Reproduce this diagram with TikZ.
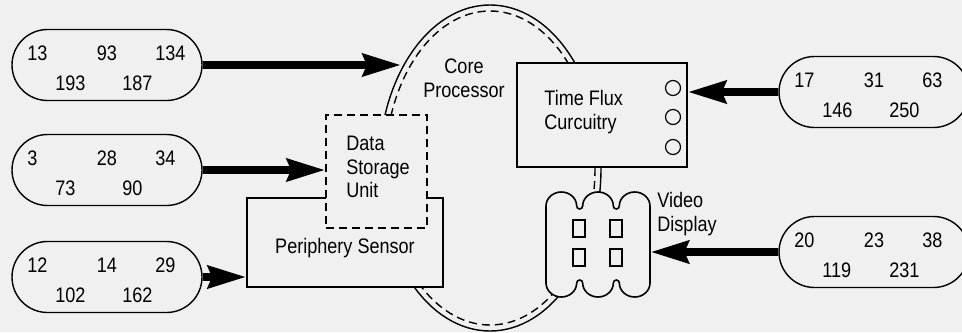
\documentclass[tikz,border=0pt]{standalone}
\usepackage{fontspec}
\setmainfont{Liberation Sans}[FakeStretch=0.86]
\usetikzlibrary{arrows.meta,positioning,shapes.misc}
\definecolor{paper}{gray}{0.94}

\begin{document}
\begin{tikzpicture}[x=0.5pt,y=-0.5pt,
  font=\fontsize{10.5}{11.8}\selectfont,
  box/.style={draw,line width=0.8pt,fill=paper,inner sep=0pt},
  dash4/.style={dash pattern=on 4pt off 2.5pt},
  pill/.style={draw,line width=0.7pt,rounded rectangle,minimum width=95pt,minimum height=35.5pt,inner sep=0pt},
  num/.style={inner sep=0pt,anchor=base west},
  lbl/.style={inner sep=0pt},
  feed/.style={line width=4pt,-{Stealth[length=19pt,width=11pt,inset=2pt]}},
  ring/.style={line width=0.7pt}]
  \useasboundingbox (0,0) rectangle (962,332);
  \fill[paper] (0,0) rectangle (962,332);

  % the core loop
  \coordinate (core) at (490,168);
  \draw[ring] (core) ellipse[x radius=111,y radius=163];
  \draw[ring,dash4] (core) ellipse[x radius=105,y radius=157];
  \coordinate (ringW) at (401,65);

  \node[box,minimum width=98pt,minimum height=44.5pt] (periph) at (345,242.5) {};
  \node[box,dash4,minimum width=50.5pt,minimum height=56.5pt] (store) at (376.5,171.5) {};
  \node[box,minimum width=85pt,minimum height=52pt] (flux) at (602,115) {};
  \foreach \yy [count=\i] in {88,117,147}
    \node[draw,circle,minimum size=7.5pt,inner sep=0pt,line width=0.6pt] (led\i) at (673,\yy) {};

  \node[inner sep=0pt,minimum width=52pt,minimum height=52.5pt] (video) at (598,245) {};
  \draw[line width=0.8pt,fill=paper] (546,283) -- (546,206)
    arc[start angle=180,end angle=360,x radius=15.33,y radius=14]
    arc[start angle=180,end angle=0,radius=3]
    arc[start angle=180,end angle=360,x radius=15.33,y radius=14]
    arc[start angle=180,end angle=0,radius=3]
    arc[start angle=180,end angle=360,x radius=15.33,y radius=14]
    -- (650,283)
    arc[start angle=0,end angle=180,x radius=15.33,y radius=14]
    arc[start angle=0,end angle=-180,radius=3]
    arc[start angle=0,end angle=180,x radius=15.33,y radius=14]
    arc[start angle=0,end angle=-180,radius=3]
    arc[start angle=0,end angle=180,x radius=15.33,y radius=14]
    -- cycle;
  \foreach \xx/\yy [count=\i] in {579/228.5,616/228.5,579/257.5,616/257.5}
    \node[draw,minimum width=6pt,minimum height=8.5pt,inner sep=0pt,line width=0.7pt] (pad\i) at (\xx,\yy) {};

  \node[lbl] (periphtxt) at (345,248) {Periphery Sensor};
  \node[lbl,align=left,anchor=west] (storetxt) at (346,167) {Data\\Storage\\Unit};
  \node[lbl,align=center] (coretxt) at (464,78) {Core\\Processor};
  \node[lbl,align=left,anchor=west] (fluxtxt) at (544,112) {Time Flux\\Curcuitry};
  \node[lbl,align=left,anchor=west] (videotxt) at (657,214) {Video\\Display};

  % number capsules
  \foreach \n/\x/\y/\a/\b/\c/\d/\e in {p1/107/65/13/93/134/193/187,
      p2/107/170/3/28/34/73/90, p3/107/277/12/14/29/102/162,
      p4/874/92/17/31/63/146/250, p5/874/252/20/23/38/119/231}{
    \node[pill] (\n) at (\x,\y) {};
    \node[num] (\n a) at ({\x-80},{\y-5}) {\a};
    \node[num,anchor=base] (\n b) at (\x,{\y-5}) {\b};
    \node[num] (\n c) at ({\x+48},{\y-5}) {\c};
    \node[num] (\n d) at ({\x-52},{\y+25}) {\d};
    \node[num] (\n e) at ({\x+15},{\y+25}) {\e};
  }

  \draw[feed] (p1.east) -- (ringW);
  \draw[feed] (p2.east) -- (p2.east -| store.west);
  \draw[feed] (p3.east) -- (p3.east -| periph.west);
  \draw[feed] (p4.west) -- (p4.west -| flux.east);
  \draw[feed] (p5.west) -- (p5.west -| video.east);
\end{tikzpicture}
\end{document}
